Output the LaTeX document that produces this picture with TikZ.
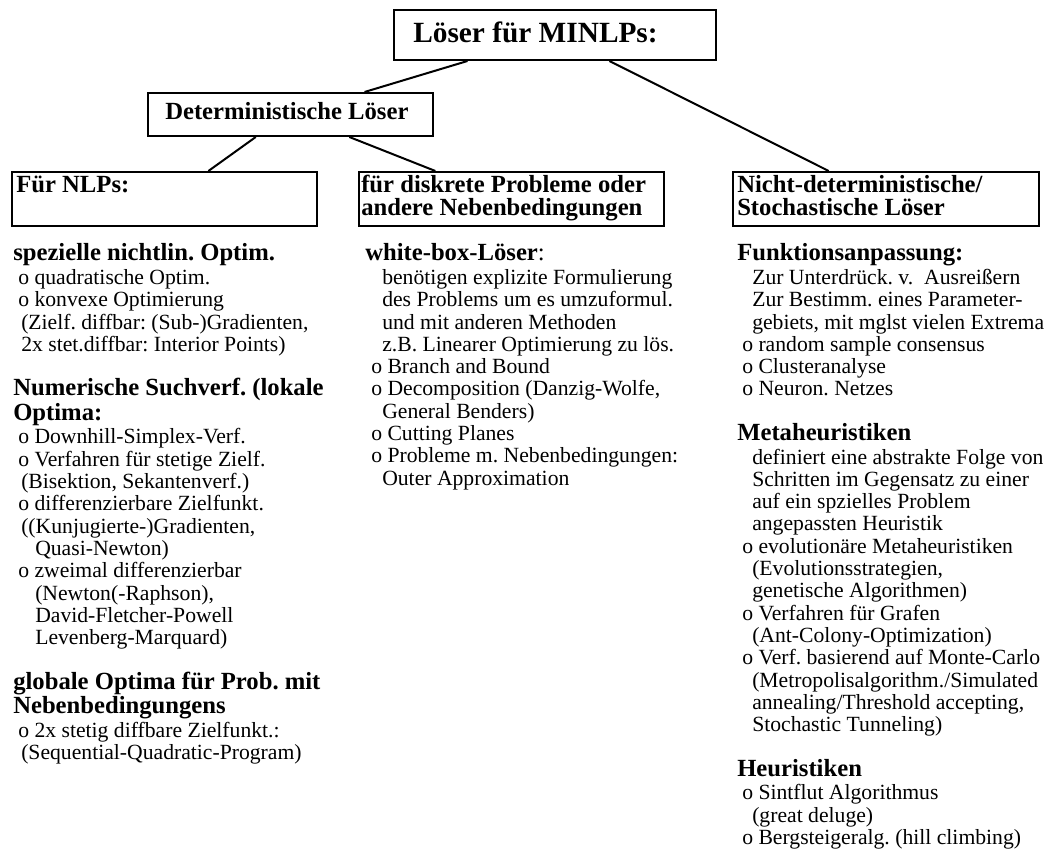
\documentclass[tikz,border=0pt]{standalone}
\usepackage{fontspec}
\setmainfont{Liberation Serif}
\usetikzlibrary{calc}
\tikzset{
  box/.style={draw, line width=1.5pt, inner sep=0pt, anchor=north west},
  conn/.style={line width=1.5pt},
  body/.style={anchor=base west, inner sep=0pt, font=\fontsize{16.25}{17}\selectfont},
  head/.style={anchor=base west, inner sep=0pt, font=\fontsize{18.5}{20}\selectfont\bfseries},
  toptext/.style={anchor=base west, inner sep=0pt, font=\fontsize{22}{26}\selectfont\bfseries},
}
\begin{document}
\frenchspacing
\begin{tikzpicture}[x=0.75pt,y=-0.75pt]
\fill[white] (0,0) rectangle (1058,855);
\useasboundingbox (0,0) rectangle (1058,855);

% boxes
\node[box, minimum width=241.5pt, minimum height=37.5pt] (top) at (393,9) {};
\node[box, minimum width=213.75pt, minimum height=32.25pt] (det) at (147,92) {};
\node[box, minimum width=228.75pt, minimum height=40.5pt] (nlp) at (11,171) {};
\node[box, minimum width=228.75pt, minimum height=40.5pt] (disc) at (358,171) {};
\node[box, minimum width=229.5pt, minimum height=40.5pt] (nicht) at (732,171) {};

% box texts
\node[toptext] (topT) at (413,43) {Löser für MINLPs:};
\node[head] (detT) at (165,120) {Deterministische Löser};
\node[head] (nlpT) at (16,193) {Für NLPs:};
\node[head] (discT1) at (361,193) {für diskrete Probleme oder};
\node[head] (discT2) at (361,216) {andere Nebenbedingungen};
\node[head] (nichtT1) at (737,193) {Nicht-deterministische/};
\node[head] (nichtT2) at (737,216) {Stochastische Löser};

% connectors
\draw[conn] ($(top.south west)!0.23!(top.south east)$) -- ($(det.north west)!0.758!(det.north east)$);
\draw[conn] ($(top.south west)!0.668!(top.south east)$) -- ($(nicht.north west)!0.314!(nicht.north east)$);
\draw[conn] ($(det.south west)!0.379!(det.south east)$) -- ($(nlp.north west)!0.643!(nlp.north east)$);
\draw[conn] ($(det.south west)!0.705!(det.south east)$) -- ($(disc.north west)!0.252!(disc.north east)$);

% ---------- column 1 ----------
\node[head] (h11) at (13,261) {spezielle nichtlin. Optim.};
\foreach \t [count=\i from 0] in {
  {o quadratische Optim.},
  {o konvexe Optimierung},
  {\hspace*{2.25pt}(Zielf. diffbar: (Sub-)Gradienten,},
  {\hspace*{2.25pt}2x stet.diffbar: Interior Points)}}
  \node[body] (ca\i) at (18,{284.5+\i*22.3}) {\t};

\node[head] (h12) at (13,396) {Numerische Suchverf. (lokale};
\node[head] (h12b) at (13,420.5) {Optima:};
\foreach \t [count=\i from 0] in {
  {o Downhill-Simplex-Verf.},
  {o Verfahren für stetige Zielf.},
  {\hspace*{2.25pt}(Bisektion, Sekantenverf.)},
  {o differenzierbare Zielfunkt.},
  {\hspace*{2.25pt}((Kunjugierte-)Gradienten,},
  {\hspace*{12.75pt}Quasi-Newton)},
  {o zweimal differenzierbar},
  {\hspace*{12.75pt}(Newton(-Raphson),},
  {\hspace*{12.75pt}David-Fletcher-Powell},
  {\hspace*{12.75pt}Levenberg-Marquard)}}
  \node[body] (cb\i) at (18,{444+\i*22.3}) {\t};

\node[head] (h13) at (13,689.3) {globale Optima für Prob. mit};
\node[head] (h13b) at (13,713.8) {Nebenbedingungens};
\foreach \t [count=\i from 0] in {
  {o 2x stetig diffbare Zielfunkt.:},
  {\hspace*{2.25pt}(Sequential-Quadratic-Program)}}
  \node[body] (cc\i) at (18,{737.3+\i*22.3}) {\t};

% ---------- column 2 ----------
\node[head] (h21) at (365,261) {white-box-Löser\mdseries:};
\foreach \t [count=\i from 0] in {
  {\hspace*{8.25pt}benötigen explizite Formulierung},
  {\hspace*{8.25pt}des Problems um es umzuformul.},
  {\hspace*{8.25pt}und mit anderen Methoden},
  {\hspace*{8.25pt}z.B. Linearer Optimierung zu lös.},
  {o Branch and Bound},
  {o Decomposition (Danzig-Wolfe,},
  {\hspace*{8.25pt}General Benders)},
  {o Cutting Planes},
  {o Probleme m. Nebenbedingungen:},
  {\hspace*{8.25pt}Outer Approximation}}
  \node[body] (da\i) at (371,{284.5+\i*22.3}) {\t};

% ---------- column 3 ----------
\node[head] (h31) at (737,261) {Funktionsanpassung:};
\foreach \t [count=\i from 0] in {
  {\hspace*{7.5pt}Zur Unterdrück. v.\ \ Ausreißern},
  {\hspace*{7.5pt}Zur Bestimm. eines Parameter-},
  {\hspace*{7.5pt}gebiets, mit mglst vielen Extrema},
  {o random sample consensus},
  {o Clusteranalyse},
  {o Neuron. Netzes}}
  \node[body] (ea\i) at (742,{284.5+\i*22.3}) {\t};

\node[head] (h32) at (737,440.6) {Metaheuristiken};
\foreach \t [count=\i from 0] in {
  {\hspace*{7.5pt}definiert eine abstrakte Folge von},
  {\hspace*{7.5pt}Schritten im Gegensatz zu einer},
  {\hspace*{7.5pt}auf ein spzielles Problem},
  {\hspace*{7.5pt}angepassten Heuristik},
  {o evolutionäre Metaheuristiken},
  {\hspace*{7.5pt}(Evolutionsstrategien,},
  {\hspace*{7.5pt}genetische Algorithmen)},
  {o Verfahren für Grafen},
  {\hspace*{7.5pt}(Ant-Colony-Optimization)},
  {o Verf. basierend auf Monte-Carlo},
  {\hspace*{7.5pt}(Metropolisalgorithm./Simulated},
  {\hspace*{7.5pt}annealing/Threshold accepting,},
  {\hspace*{7.5pt}Stochastic Tunneling)}}
  \node[body] (eb\i) at (742,{464.1+\i*22.3}) {\t};

\node[head] (h33) at (737,776.3) {Heuristiken};
\foreach \t [count=\i from 0] in {
  {o Sintflut Algorithmus},
  {\hspace*{7.5pt}(great deluge)},
  {o Bergsteigeralg. (hill climbing)}}
  \node[body] (ec\i) at (742,{799.8+\i*22.3}) {\t};
\end{tikzpicture}
\end{document}
